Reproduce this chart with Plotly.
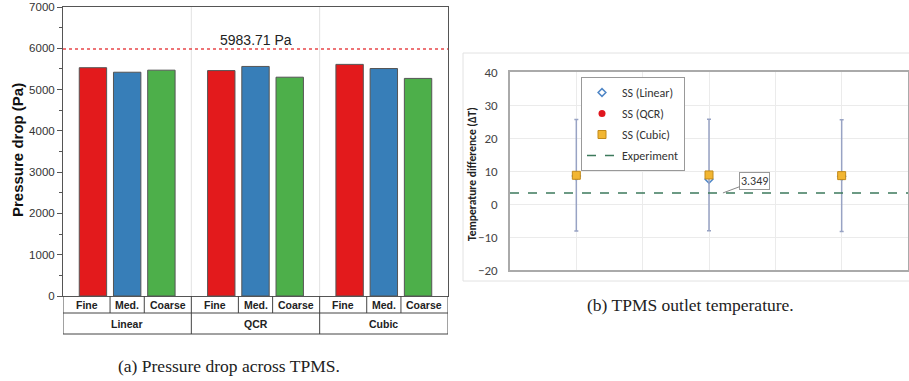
import plotly.graph_objects as go

# ---------------- data ----------------
MODELS = ["Linear", "QCR", "Cubic"]
MESHES = ["Fine", "Med.", "Coarse"]
DP_LINEAR = [5530, 5420, 5470]
DP_QCR = [5460, 5560, 5300]
DP_CUBIC = [5610, 5510, 5270]
DP_REF = 5983.71
Y1_TICKS = [0, 1000, 2000, 3000, 4000, 5000, 6000, 7000]

CASES = [1, 2, 3]
SS_LINEAR = [8.5, 7.5, 8.4]
SS_QCR = [8.6, 8.6, 8.5]
SS_CUBIC = [8.7, 8.8, 8.6]
SS_ERR = [16.9, 16.9, 16.9]
EXPERIMENT = 3.349
Y2_TICKS = [-20, -10, 0, 10, 20, 30, 40]

# ---------------- style / layout helpers ----------------
W, H = 909, 381
GROUP_STEP = 3.75
BAR_W = 0.8
COLORS = ["#e31a1c", "#377eb8", "#4daf4a"]
FONT = "Arial, Liberation Sans, sans-serif"
NARROW = "Carlito, Liberation Sans Narrow, Arial Narrow, Arial, sans-serif"
SERIF = "Liberation Serif, Times New Roman, serif"

def px_x(p):
    return p / W

def px_y(p):
    return 1 - p / H

DP_BY_MODEL = [DP_LINEAR, DP_QCR, DP_CUBIC]

fig = go.Figure()

# ----- left: bars -----
for i, mesh in enumerate(MESHES):
    fig.add_trace(go.Bar(
        x=[g * GROUP_STEP + i for g in range(len(MODELS))],
        y=[DP_BY_MODEL[g][i] for g in range(len(MODELS))],
        width=BAR_W,
        marker=dict(color=COLORS[i], line=dict(color="#555555", width=1)),
        name=mesh, showlegend=False, xaxis="x", yaxis="y",
    ))

x_left = -0.875
x_right = x_left + GROUP_STEP * len(MODELS)

shapes = []
annotations = []

def note(**kw):
    kw.setdefault("showarrow", False)
    kw.setdefault("xanchor", "center")
    kw.setdefault("yanchor", "middle")
    annotations.append(kw)

# group separators inside plot
for g in range(1, len(MODELS)):
    xb = x_left + g * GROUP_STEP
    shapes.append(dict(type="line", xref="x", yref="y", x0=xb, x1=xb, y0=0, y1=Y1_TICKS[-1],
                       line=dict(color="#e2e2e2", width=1), layer="below"))

# reference line
shapes.append(dict(type="line", xref="x", yref="y", x0=x_left, x1=x_right, y0=DP_REF, y1=DP_REF,
                   line=dict(color="#e8474a", width=1.5, dash="dot")))
note(xref="x", yref="y", x=GROUP_STEP + 1, y=DP_REF, yanchor="bottom", yshift=-1,
     text=f"{DP_REF:.2f} Pa", font=dict(family=FONT, size=14, color="#222"))

# category table below axis
y_top = px_y(296)
y_mid = px_y(313)
y_bot = px_y(334)
tcol = "#444444"
shapes.append(dict(type="line", xref="x", yref="paper", x0=x_left, x1=x_right, y0=y_mid, y1=y_mid,
                   line=dict(color=tcol, width=1)))
shapes.append(dict(type="line", xref="x", yref="paper", x0=x_left, x1=x_right, y0=y_bot, y1=y_bot,
                   line=dict(color=tcol, width=1)))
for g in range(len(MODELS) + 1):
    xb = x_left + g * GROUP_STEP
    shapes.append(dict(type="line", xref="x", yref="paper", x0=xb, x1=xb, y0=y_bot, y1=y_top,
                       line=dict(color=tcol, width=1)))
for g in range(len(MODELS)):
    g0 = x_left + g * GROUP_STEP
    edges = [g0] + [g * GROUP_STEP + k + 0.5 for k in range(len(MESHES) - 1)] + [g0 + GROUP_STEP]
    for xb in edges[1:-1]:
        shapes.append(dict(type="line", xref="x", yref="paper", x0=xb, x1=xb, y0=y_mid, y1=y_top,
                           line=dict(color=tcol, width=1)))
    for i, mesh in enumerate(MESHES):
        note(xref="x", yref="paper", x=(edges[i] + edges[i + 1]) / 2, y=px_y(304.5),
             text=f"<b>{mesh}</b>", font=dict(family=FONT, size=10.5, color="#222"))
    note(xref="x", yref="paper", x=g0 + GROUP_STEP / 2, y=px_y(323.5),
         text=f"<b>{MODELS[g]}</b>", font=dict(family=FONT, size=10.5, color="#222"))

note(xref="paper", yref="paper", x=px_x(17), y=px_y(150), textangle=-90,
     text="<b>Pressure drop (Pa)</b>", font=dict(family=FONT, size=15, color="#111"))

# ----- right: scatter -----
XR = [0.5, 3.5]
fig.add_trace(go.Scatter(
    x=CASES, y=SS_LINEAR, mode="markers", name="SS (Linear)", legendgroup="a",
    marker=dict(symbol="diamond-open", size=6, color="#4f86c6", line=dict(width=1.5)),
    xaxis="x2", yaxis="y2"))
fig.add_trace(go.Scatter(
    x=CASES, y=SS_QCR, mode="markers", name="SS (QCR)", legendgroup="b",
    marker=dict(symbol="circle", size=7, color="#e0161e"),
    xaxis="x2", yaxis="y2"))
fig.add_trace(go.Scatter(
    x=CASES, y=SS_CUBIC, mode="markers", name="SS (Cubic)", legendgroup="c",
    marker=dict(symbol="square", size=8, color="#f2b632", line=dict(color="#c28a1a", width=1)),
    error_y=dict(type="data", array=SS_ERR, visible=True, color="#98a3c4", thickness=1.5, width=2),
    xaxis="x2", yaxis="y2"))
fig.add_trace(go.Scatter(
    x=XR, y=[EXPERIMENT, EXPERIMENT], mode="lines", name="Experiment", legendgroup="d",
    line=dict(color="#3d7a5c", width=1.5, dash="dash"),
    xaxis="x2", yaxis="y2"))

annotations.append(dict(xref="x2", yref="y2", x=CASES[1] + 0.105, y=EXPERIMENT,
                        text=f"{EXPERIMENT}", showarrow=True, arrowhead=0, arrowwidth=1,
                        arrowcolor="#888", ax=32, ay=-12, bordercolor="#999", borderwidth=1,
                        borderpad=1, bgcolor="white",
                        font=dict(family=NARROW, size=12, color="#333")))
note(xref="paper", yref="paper", x=px_x(472), y=px_y(174), textangle=-90,
     text="<b>Temperature difference (ΔT)</b>", font=dict(family=NARROW, size=11.5, color="#222"))

# outer frame of right chart
shapes.append(dict(type="rect", xref="paper", yref="paper", x0=px_x(463), x1=1.02,
                   y0=px_y(281), y1=px_y(53), line=dict(color="#e2e2e2", width=1), layer="below"))

# captions
note(xref="paper", yref="paper", x=px_x(229), y=px_y(366),
     text="(a) Pressure drop across TPMS.", font=dict(family=SERIF, size=17.5, color="#222"))
note(xref="paper", yref="paper", x=px_x(690), y=px_y(305),
     text="(b) TPMS outlet temperature.", font=dict(family=SERIF, size=17.5, color="#222"))

fig.update_layout(
    width=W, height=H, margin=dict(l=0, r=0, t=0, b=0, autoexpand=False),
    paper_bgcolor="white", plot_bgcolor="white",
    barmode="overlay",
    xaxis=dict(domain=[px_x(63), px_x(448)], range=[x_left, x_right], showticklabels=False,
               ticks="", showline=True, mirror=True, linecolor="#555", linewidth=1,
               showgrid=False, zeroline=False, anchor="y", automargin=False),
    yaxis=dict(domain=[px_y(296), px_y(7)], range=[Y1_TICKS[0], Y1_TICKS[-1]], tickvals=Y1_TICKS,
               ticks="outside", ticklen=5, tickcolor="#555", showline=True, mirror=True,
               linecolor="#555", linewidth=1, showgrid=False, zeroline=False,
               ticklabeloverflow="allow",
               minor=dict(dtick=500, ticks="outside", ticklen=3, tickcolor="#555"),
               tickfont=dict(family=FONT, size=11.5, color="#333"), anchor="x", automargin=False),
    xaxis2=dict(domain=[px_x(510), px_x(908)], range=XR, tick0=0.5, dtick=0.5,
                showticklabels=False, ticks="", showgrid=True, gridcolor="#ebebeb",
                showline=True, mirror=True, linecolor="#aaaaaa", linewidth=1.5,
                zeroline=False, anchor="y2", automargin=False),
    yaxis2=dict(domain=[px_y(270), px_y(72)], range=[Y2_TICKS[0], Y2_TICKS[-1]], tickvals=Y2_TICKS,
                ticks="", showgrid=True, gridcolor="#ebebeb", showline=True, mirror=True,
                linecolor="#aaaaaa", linewidth=1.5, zeroline=False, ticklabelstandoff=8,
                ticklabeloverflow="allow",
                tickfont=dict(family=NARROW, size=13, color="#444"), anchor="x2", automargin=False),
    legend=dict(x=px_x(581), y=px_y(77), xanchor="left", yanchor="top",
                bgcolor="white", bordercolor="#999", borderwidth=1,
                font=dict(family=NARROW, size=12, color="#333"), itemwidth=30,
                tracegroupgap=2, traceorder="grouped"),
    shapes=shapes, annotations=annotations,
)

fig.write_html("out.html", config={"displayModeBar": False},
               post_script="document.body.style.margin='0';document.body.style.overflow='hidden';")
